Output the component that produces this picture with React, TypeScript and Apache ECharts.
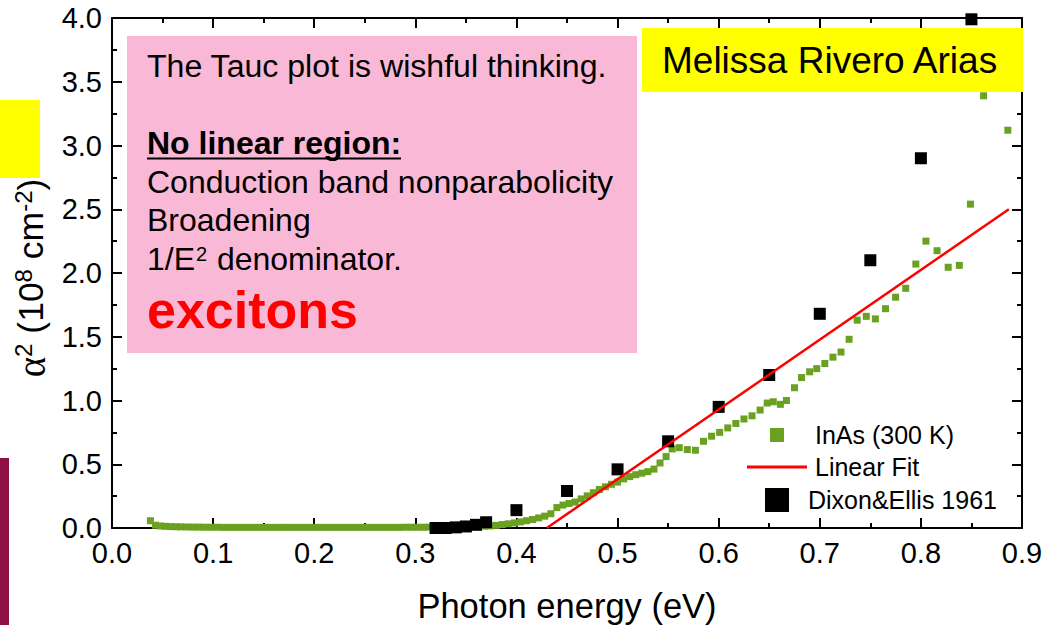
import React, { useEffect, useRef } from 'react';
import * as echarts from 'echarts';

const FONT = '"Liberation Sans", Arial, Helvetica, sans-serif';
const SERIF = '"Liberation Serif", "Times New Roman", serif';

// InAs (300 K) absorption data: photon energy (eV) and alpha^2 (1e8 cm^-2)
const inasEnergy = [
  0.038, 0.043, 0.048, 0.053, 0.058, 0.063, 0.068,
  0.074, 0.080, 0.086, 0.092, 0.098, 0.104, 0.110, 0.116, 0.122, 0.128,
  0.134, 0.140, 0.146, 0.152, 0.158, 0.164, 0.170, 0.176, 0.182, 0.188,
  0.194, 0.200, 0.206, 0.212, 0.218, 0.224, 0.230, 0.236, 0.242, 0.248,
  0.254, 0.260, 0.266, 0.272, 0.278, 0.284, 0.290, 0.296, 0.302, 0.308,
  0.314, 0.320, 0.326, 0.332, 0.338, 0.344, 0.350, 0.356, 0.362, 0.368,
  0.374, 0.380, 0.386, 0.392, 0.398, 0.404, 0.410, 0.416, 0.422, 0.428,
  0.434, 0.440, 0.446, 0.452, 0.458, 0.464, 0.470, 0.476, 0.482, 0.488,
  0.494, 0.500, 0.506, 0.512, 0.518, 0.524, 0.530, 0.536, 0.542, 0.548,
  0.554, 0.561, 0.569, 0.577, 0.585, 0.593, 0.601, 0.609, 0.617, 0.625,
  0.633, 0.641, 0.648, 0.654, 0.661, 0.667, 0.675, 0.682, 0.690, 0.697,
  0.705, 0.713, 0.721, 0.729, 0.737, 0.746, 0.755, 0.765, 0.775, 0.785,
  0.795, 0.805, 0.816, 0.827, 0.838, 0.849, 0.862, 0.886,
];
const inasAlpha2 = [
  0.057, 0.022, 0.016, 0.013, 0.011, 0.010, 0.009,
  0.008, 0.007, 0.007, 0.006, 0.006, 0.006, 0.005, 0.005, 0.005, 0.005,
  0.005, 0.005, 0.005, 0.005, 0.005, 0.005, 0.005, 0.005, 0.005, 0.005,
  0.005, 0.005, 0.005, 0.005, 0.005, 0.005, 0.005, 0.005, 0.005, 0.005,
  0.005, 0.005, 0.005, 0.005, 0.005, 0.005, 0.006, 0.006, 0.006, 0.006,
  0.007, 0.007, 0.008, 0.008, 0.009, 0.010, 0.011, 0.012, 0.013, 0.014,
  0.016, 0.021, 0.027, 0.033, 0.040, 0.048, 0.057, 0.067, 0.079, 0.093,
  0.112, 0.160, 0.180, 0.192, 0.203, 0.228, 0.252, 0.277, 0.302, 0.323,
  0.343, 0.360, 0.385, 0.403, 0.418, 0.430, 0.442, 0.462, 0.510, 0.560,
  0.620, 0.630, 0.615, 0.610, 0.680, 0.720, 0.750, 0.785, 0.820, 0.855,
  0.880, 0.925, 0.980, 0.990, 0.970, 1.000, 1.100, 1.180, 1.225, 1.250,
  1.290, 1.340, 1.380, 1.480, 1.630, 1.660, 1.640, 1.720, 1.810, 1.880,
  2.070, 2.250, 2.175, 2.045, 2.060, 2.540, 3.390, 3.120,
];

// Dixon & Ellis 1961
const dixonEnergy = [0.32, 0.33, 0.34, 0.35, 0.36, 0.37, 0.40, 0.45, 0.50, 0.55, 0.60, 0.65, 0.70, 0.75, 0.80, 0.85];
const dixonAlpha2 = [0.0, 0.0, 0.005, 0.012, 0.025, 0.045, 0.14, 0.29, 0.46, 0.68, 0.95, 1.20, 1.68, 2.10, 2.90, 3.99];

// Linear fit end points
const fitEnergy = [0.43, 0.887];
const fitAlpha2 = [0.0, 2.5];

const seriesNames = ['InAs (300 K)', 'Linear Fit', 'Dixon&Ellis 1961'];
const noteLines = [
  'The Tauc plot is wishful thinking.',
  'No linear region:',
  'Conduction band nonparabolicity',
  'Broadening',
  '1/E',
  '2',
  ' denominator.',
  'excitons',
];
const authorText = 'Melissa Rivero Arias';
const xTitle = 'Photon energy (eV)';

const GREEN = '#6AA121';
const PINK = '#F9B9D6';
const YELLOW = '#FFFF00';

function zip(a: number[], b: number[]) {
  return a.map((v, i) => [v, b[i]]);
}

function txt(text: string, x: number, y: number, size: number, extra: any = {}) {
  return {
    type: 'text',
    x,
    y,
    z: 101,
    style: {
      text,
      fontSize: size,
      fontFamily: FONT,
      fontWeight: extra.bold ? 'bold' : 'normal',
      fill: extra.color || '#000',
      align: 'left',
      textAlign: 'left',
      verticalAlign: 'middle',
      textVerticalAlign: 'middle',
    },
  };
}

export default function App() {
  const ref = useRef<HTMLDivElement>(null);

  useEffect(() => {
    if (!ref.current) return;
    const chart = echarts.init(ref.current, undefined, { renderer: 'svg' });
    const axisLine = { show: true, onZero: false, lineStyle: { color: '#000', width: 2 } };
    const tick = { show: true, inside: true, length: 10, lineStyle: { color: '#000', width: 2 } };
    const minor = { show: true, splitNumber: 2, length: 5, lineStyle: { color: '#000', width: 2 } };
    const labelStyle = { color: '#000', fontSize: 29, fontFamily: FONT, margin: 10, formatter: (v: number) => v.toFixed(1) };

    const option: any = {
      animation: false,
      backgroundColor: '#fff',
      grid: { left: 112, right: 24, top: 18, bottom: 97, containLabel: false, outerBoundsMode: 'none' },
      xAxis: [
        {
          type: 'value', min: 0, max: 0.9, interval: 0.1, position: 'bottom',
          name: xTitle, nameLocation: 'middle', nameGap: 60,
          nameTextStyle: { color: '#000', fontSize: 34.5, fontFamily: FONT },
          axisLine, axisTick: tick, minorTick: minor, splitLine: { show: false },
          axisLabel: labelStyle,
        },
        {
          type: 'value', min: 0, max: 0.9, interval: 0.1, position: 'top',
          axisLine, axisTick: tick, minorTick: minor, splitLine: { show: false },
          axisLabel: { show: false },
        },
      ],
      yAxis: [
        {
          type: 'value', min: 0, max: 4, interval: 0.5, position: 'left',
          name: '{g|α}{s|2}{a| (10}{s|8}{a| cm}{s|-2}{a|)}',
          nameLocation: 'middle', nameRotate: 90, nameGap: 44,
          nameTextStyle: {
            color: '#000',
            padding: [0, 10, 0, 0],
            rich: {
              g: { fontSize: 39, fontFamily: SERIF, color: '#000', lineHeight: 40 },
              a: { fontSize: 35.5, fontFamily: FONT, color: '#000', lineHeight: 40 },
              s: { fontSize: 24, fontFamily: FONT, color: '#000', lineHeight: 20, verticalAlign: 'top' },
            },
          },
          axisLine, axisTick: tick, minorTick: minor, splitLine: { show: false },
          axisLabel: labelStyle,
        },
        {
          type: 'value', min: 0, max: 4, interval: 0.5, position: 'right',
          axisLine, axisTick: tick, minorTick: minor, splitLine: { show: false },
          axisLabel: { show: false },
        },
      ],
      legend: [
        {
          data: [{ name: seriesNames[0], icon: 'rect' }],
          left: 770, top: 422.5, padding: 0, itemWidth: 14, itemHeight: 14,
          textStyle: { color: '#000', fontSize: 25, fontFamily: FONT, padding: [0, 0, 0, 26] },
        },
        {
          data: [{ name: seriesNames[1], icon: 'rect' }],
          left: 747, top: 454.5, padding: 0, itemWidth: 60, itemHeight: 3,
          textStyle: { color: '#000', fontSize: 25, fontFamily: FONT, padding: [0, 0, 0, 3] },
        },
        {
          data: [{ name: seriesNames[2], icon: 'rect' }],
          left: 765, top: 487.5, padding: 0, itemWidth: 24, itemHeight: 24,
          textStyle: { color: '#000', fontSize: 25, fontFamily: FONT, padding: [0, 0, 0, 14] },
        },
      ],
      series: [
        {
          name: seriesNames[0], type: 'scatter', symbol: 'rect', symbolSize: 7,
          itemStyle: { color: GREEN, opacity: 1 }, data: zip(inasEnergy, inasAlpha2),
        },
        {
          name: seriesNames[2], type: 'scatter', symbol: 'rect', symbolSize: 12,
          itemStyle: { color: '#000', opacity: 1 }, data: zip(dixonEnergy, dixonAlpha2),
        },
        {
          name: seriesNames[1], type: 'line', symbol: 'none', showSymbol: false,
          itemStyle: { color: '#FF0000' },
          lineStyle: { color: '#FF0000', width: 2.5 }, data: zip(fitEnergy, fitAlpha2),
        },
      ],
      graphic: [
        { type: 'rect', z: 50, shape: { x: 0, y: 100, width: 40, height: 78 }, style: { fill: YELLOW } },
        { type: 'rect', z: 50, shape: { x: 0, y: 458, width: 9, height: 167 }, style: { fill: '#8C1044' } },
        { type: 'rect', z: 100, shape: { x: 127, y: 36, width: 510, height: 317 }, style: { fill: PINK } },
        txt(noteLines[0], 147, 66, 32.1),
        txt(noteLines[1], 147, 143, 32, { bold: true }),
        { type: 'line', z: 101, shape: { x1: 147, y1: 158.5, x2: 401, y2: 158.5 }, style: { stroke: '#000', lineWidth: 2 } },
        txt(noteLines[2], 147, 182, 32),
        txt(noteLines[3], 147, 220, 32),
        txt(noteLines[4], 147, 259, 32),
        txt(noteLines[5], 196, 254, 20),
        txt(noteLines[6], 208, 259, 32),
        txt(noteLines[7], 147, 310, 52, { bold: true, color: '#FF0000' }),
        { type: 'rect', z: 100, shape: { x: 642, y: 28, width: 381, height: 64 }, style: { fill: YELLOW } },
        txt(authorText, 662, 60.5, 37),
      ],
    };
    chart.setOption(option);
    return () => chart.dispose();
  }, []);

  return (
    <div
      ref={ref}
      style={{ position: 'fixed', left: 0, top: 0, width: 1046, height: 625, background: '#fff' }}
    />
  );
}
